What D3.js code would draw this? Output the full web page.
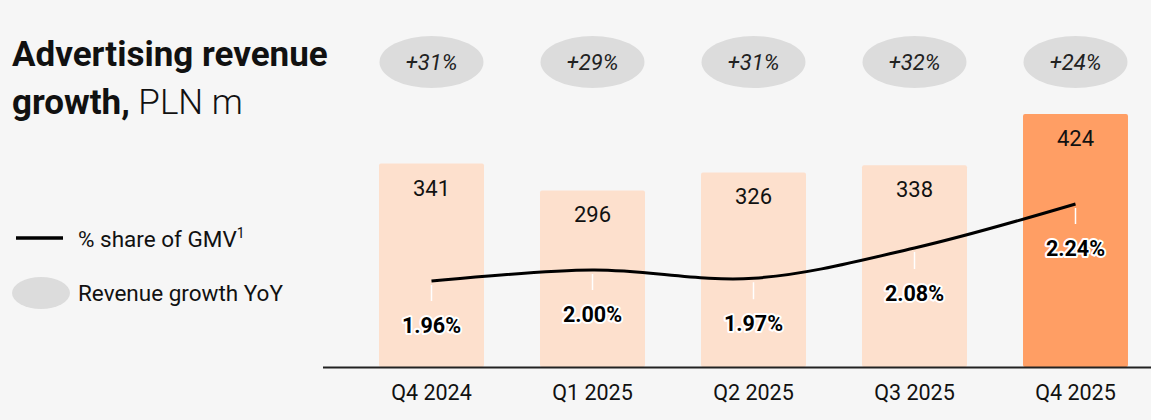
<!DOCTYPE html><html><head><meta charset="utf-8"><script src="https://cdn.jsdelivr.net/npm/d3@7"></script>
<style>body{margin:0;background:#f6f6f6}svg{display:block;font-family:Roboto,sans-serif}</style></head><body><svg id="c" width="1151" height="420"></svg>
<script>
const categories=["Q4 2024","Q1 2025","Q2 2025","Q3 2025","Q4 2025"];
const revenue=[341,296,326,338,424];
const gmvShare=[1.96,2.00,1.97,2.08,2.24];
const growth=["+31%","+29%","+31%","+32%","+24%"];
const labelOffset=[44,44,45,45,44];
const svg=d3.select("#c");
svg.append("rect").attr("width",1151).attr("height",420).attr("fill","#f6f6f6");
const x=d3.scaleBand().domain(categories).range([351,1156]).paddingInner(0.348).paddingOuter(0.174);
const y=d3.scaleLinear().domain([0,424]).range([367,114]);
const y2=d3.scaleLinear().domain([1.96,2.24]).range([281,204]);
const cx=d=>x(d)+x.bandwidth()/2;
svg.selectAll(".bar").data(categories).join("rect").attr("x",d=>x(d)).attr("y",(d,i)=>y(revenue[i])).attr("width",x.bandwidth()).attr("height",(d,i)=>367-y(revenue[i])).attr("rx",2).attr("fill",(d,i)=>i==4?"#ff9e64":"#fde0cd");
svg.selectAll(".val").data(categories).join("text").attr("x",cx).attr("y",(d,i)=>y(revenue[i])+32).attr("text-anchor","middle").attr("font-size",22).attr("fill","#111").text((d,i)=>revenue[i]);
svg.append("line").attr("x1",323).attr("x2",1151).attr("y1",367.5).attr("y2",367.5).attr("stroke","#222").attr("stroke-width",2);
svg.selectAll(".con").data(categories).join("line").attr("x1",cx).attr("x2",cx).attr("y1",(d,i)=>y2(gmvShare[i])+4).attr("y2",(d,i)=>y2(gmvShare[i])+labelOffset[i]-24).attr("stroke","#fff").attr("stroke-width",1.5);
svg.append("path").datum(categories).attr("d",d3.line().x(cx).y((d,i)=>y2(gmvShare[i])).curve(d3.curveCatmullRom.alpha(0.5))).attr("fill","none").attr("stroke","#000").attr("stroke-width",3);
svg.selectAll(".pct").data(categories).join("text").attr("x",cx).attr("y",(d,i)=>y2(gmvShare[i])+labelOffset[i]+8).attr("text-anchor","middle").attr("font-size",21.5).attr("font-weight","bold").attr("fill","#000").attr("stroke","#fff").attr("stroke-width",4).attr("paint-order","stroke").attr("stroke-linejoin","round").text((d,i)=>gmvShare[i].toFixed(2)+"%");
svg.selectAll(".ell").data(categories).join("ellipse").attr("cx",cx).attr("cy",62).attr("rx",52).attr("ry",26).attr("fill","#dcdcdc");
svg.selectAll(".gr").data(categories).join("text").attr("x",cx).attr("y",70).attr("text-anchor","middle").attr("font-size",22).attr("font-style","italic").attr("fill","#222").text((d,i)=>growth[i]);
svg.selectAll(".xl").data(categories).join("text").attr("x",cx).attr("y",400).attr("text-anchor","middle").attr("font-size",21.5).attr("fill","#111").text(d=>d);
svg.append("text").attr("x",12).attr("y",66).attr("font-size",35).attr("font-weight","bold").attr("fill","#111").text("Advertising revenue");
const t2=svg.append("text").attr("x",12).attr("y",114).attr("font-size",35).attr("fill","#111");
t2.append("tspan").attr("font-weight","bold").text("growth,");
t2.append("tspan").attr("font-weight","300").text(" PLN m");
svg.append("line").attr("x1",16).attr("x2",63).attr("y1",238).attr("y2",238).attr("stroke","#000").attr("stroke-width",3.5);
const lt=svg.append("text").attr("x",78).attr("y",247).attr("font-size",22.5).attr("fill","#111").text("% share of GMV");
lt.append("tspan").attr("font-size",14).attr("dy",-9).text("1");
svg.append("ellipse").attr("cx",41).attr("cy",293).attr("rx",29).attr("ry",16).attr("fill","#dcdcdc");
svg.append("text").attr("x",78).attr("y",301).attr("font-size",22.5).attr("fill","#111").text("Revenue growth YoY");
</script></body></html>
